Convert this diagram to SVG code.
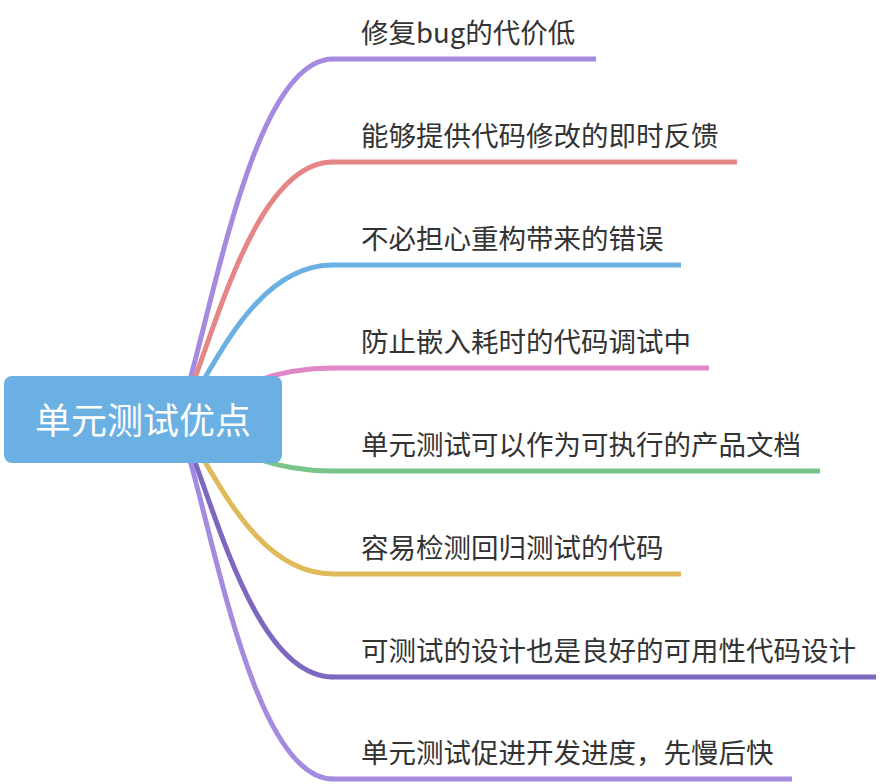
<svg xmlns="http://www.w3.org/2000/svg" width="880" height="784" viewBox="0 0 880 784">
<style>
.c{fill:none;stroke-width:5;stroke-linecap:butt}
.t{font-family:"Noto Sans CJK SC","Microsoft YaHei",sans-serif;font-size:27.5px;fill:#333333}
.rt{font-family:"Noto Sans CJK SC","Microsoft YaHei",sans-serif;font-size:36px;fill:#ffffff;text-anchor:middle}
.p1{stroke:#A48BE0}.p2{stroke:#E68585}.p3{stroke:#6AB0E3}.p4{stroke:#E087C8}
.p5{stroke:#78C48A}.p6{stroke:#E0B95A}.p7{stroke:#7E68BF}.p8{stroke:#A48BE0}
</style>
<rect width="880" height="784" fill="#ffffff"/>
<g id="connectors">
<path class="c p1" d="M178 420 C210 329.75 250 59 333 59"/>
<path class="c p2" d="M178 420 C210 355.5 250 162 333 162"/>
<path class="c p3" d="M178 420 C210 381 250 265 333 265"/>
<path class="c p4" d="M178 420 C210 407 250 368 333 368"/>
<path class="c p5" d="M178 420 C210 432.75 250 471 333 471"/>
<path class="c p6" d="M178 420 C210 458.5 250 574 333 574"/>
<path class="c p7" d="M178 420 C210 484.25 250 677 333 677"/>
<path class="c p8" d="M178 420 C210 509.75 250 779 333 779"/>
</g>
<g id="root">
<rect x="4" y="376" width="278" height="87" rx="8" fill="#6AB0E3"/>
<text class="rt" x="143" y="434">单元测试优点</text>
</g>
<g id="n1"><line class="c p1" x1="332" y1="59" x2="596" y2="59"/><text class="t" x="361" y="43">修复bug的代价低</text></g>
<g id="n2"><line class="c p2" x1="332" y1="162" x2="737" y2="162"/><text class="t" x="361" y="146">能够提供代码修改的即时反馈</text></g>
<g id="n3"><line class="c p3" x1="332" y1="265" x2="681" y2="265"/><text class="t" x="361" y="249">不必担心重构带来的错误</text></g>
<g id="n4"><line class="c p4" x1="332" y1="368" x2="709" y2="368"/><text class="t" x="361" y="352">防止嵌入耗时的代码调试中</text></g>
<g id="n5"><line class="c p5" x1="332" y1="471" x2="820" y2="471"/><text class="t" x="361" y="455">单元测试可以作为可执行的产品文档</text></g>
<g id="n6"><line class="c p6" x1="332" y1="574" x2="681" y2="574"/><text class="t" x="361" y="558">容易检测回归测试的代码</text></g>
<g id="n7"><line class="c p7" x1="332" y1="677" x2="876" y2="677"/><text class="t" x="361" y="661">可测试的设计也是良好的可用性代码设计</text></g>
<g id="n8"><line class="c p8" x1="332" y1="779" x2="792" y2="779"/><text class="t" x="361" y="763">单元测试促进开发进度，先慢后快</text></g>
</svg>
